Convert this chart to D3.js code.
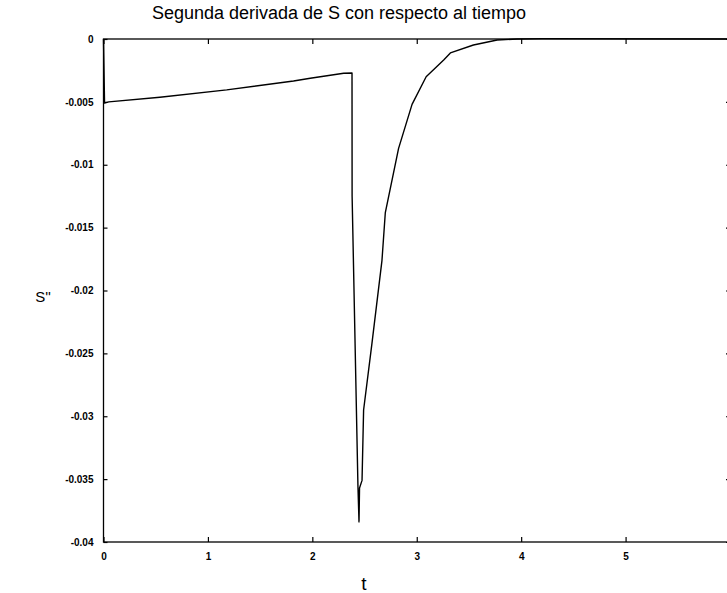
<!DOCTYPE html>
<html>
<head>
<meta charset="utf-8">
<script src="https://cdn.jsdelivr.net/npm/d3@7"></script>
<style>
  body { margin: 0; background: #fff; }
  text { font-family: "Liberation Sans", Arial, sans-serif; fill: #000; }
</style>
</head>
<body>
<div id="chart"></div>
<script>
// t values and S'' values
const tValues = [0, 0.01, 0.05, 0.54, 1.18, 1.82, 1.98, 2.3, 2.38, 2.381, 2.437, 2.447,
    2.452, 2.476, 2.491, 2.571, 2.667, 2.699, 2.826, 2.955, 3.09, 3.258, 3.322, 3.543, 3.77, 3.96, 4.2, 6]
const sValues = [0, -0.0051, -0.0050, -0.00463, -0.00405, -0.00334, -0.00312, -0.00272, -0.0027, -0.0125,
    -0.0356, -0.0384, -0.0357, -0.0351, -0.0295, -0.0242, -0.0176, -0.0138, -0.0087, -0.0052, -0.0030,
    -0.00167, -0.00111, -0.00048, -0.00008, 0, 0.00003, 0]
const xTicks = [0, 1, 2, 3, 4, 5, 6]
const yTicks = [0, -0.005, -0.01, -0.015, -0.02, -0.025, -0.03, -0.035, -0.04]

const WIDTH = 727
const HEIGHT = 593
const MARGIN = { TOP: 39, RIGHT: -3, BOTTOM: 51, LEFT: 103.5 }

const svg = d3.select('#chart').append('svg')
    .attr('width', WIDTH)
    .attr('height', HEIGHT)

const x = d3.scaleLinear().domain([0, 6]).range([MARGIN.LEFT, WIDTH - MARGIN.RIGHT])
const y = d3.scaleLinear().domain([-0.04, 0]).range([HEIGHT - MARGIN.BOTTOM, MARGIN.TOP])

// box
svg.append('rect')
    .attr('x', x(0))
    .attr('y', y(0))
    .attr('width', x(6) - x(0))
    .attr('height', y(-0.04) - y(0))
    .attr('fill', 'none')
    .attr('stroke', '#000')
    .attr('stroke-width', 1.3)

// axes with inward ticks
const styleAxis = g => {
    g.select('.domain').remove()
    g.selectAll('line').attr('stroke', '#000').attr('stroke-width', 1.2)
    g.selectAll('text').style('font-size', '10px').style('font-weight', 'bold')
}

svg.append('g')
    .attr('transform', `translate(0,${y(-0.04)})`)
    .call(d3.axisBottom(x).tickValues(xTicks).tickSize(-5).tickPadding(11).tickFormat(d3.format('d')))
    .call(styleAxis)

svg.append('g')
    .attr('transform', `translate(0,${y(0)})`)
    .call(d3.axisTop(x).tickValues(xTicks).tickSize(-5).tickFormat(''))
    .call(styleAxis)

svg.append('g')
    .attr('transform', `translate(${x(0)},0)`)
    .call(d3.axisLeft(y).tickValues(yTicks).tickSize(-4).tickPadding(10)
        .tickFormat(d => (d === 0 ? '0' : String(+d.toFixed(3)))))
    .call(styleAxis)

svg.append('g')
    .attr('transform', `translate(${x(6)},0)`)
    .call(d3.axisRight(y).tickValues(yTicks).tickSize(-4).tickFormat(''))
    .call(styleAxis)

// curve
const points = tValues.map((t, i) => [t, sValues[i]])
svg.append('path')
    .datum(points)
    .attr('fill', 'none')
    .attr('stroke', '#000')
    .attr('stroke-width', 1.4)
    .attr('stroke-linejoin', 'round')
    .attr('d', d3.line().x(d => x(d[0])).y(d => y(d[1])))

// labels
svg.append('text')
    .attr('x', 339)
    .attr('y', 19)
    .attr('text-anchor', 'middle')
    .style('font-size', '18px')
    .text('Segunda derivada de S con respecto al tiempo')

svg.append('text')
    .attr('x', 43)
    .attr('y', 302)
    .attr('text-anchor', 'middle')
    .style('font-size', '15px')
    .text('S\'\'')

svg.append('text')
    .attr('x', 364)
    .attr('y', 590)
    .attr('text-anchor', 'middle')
    .style('font-size', '19px')
    .text('t')
</script>
</body>
</html>
